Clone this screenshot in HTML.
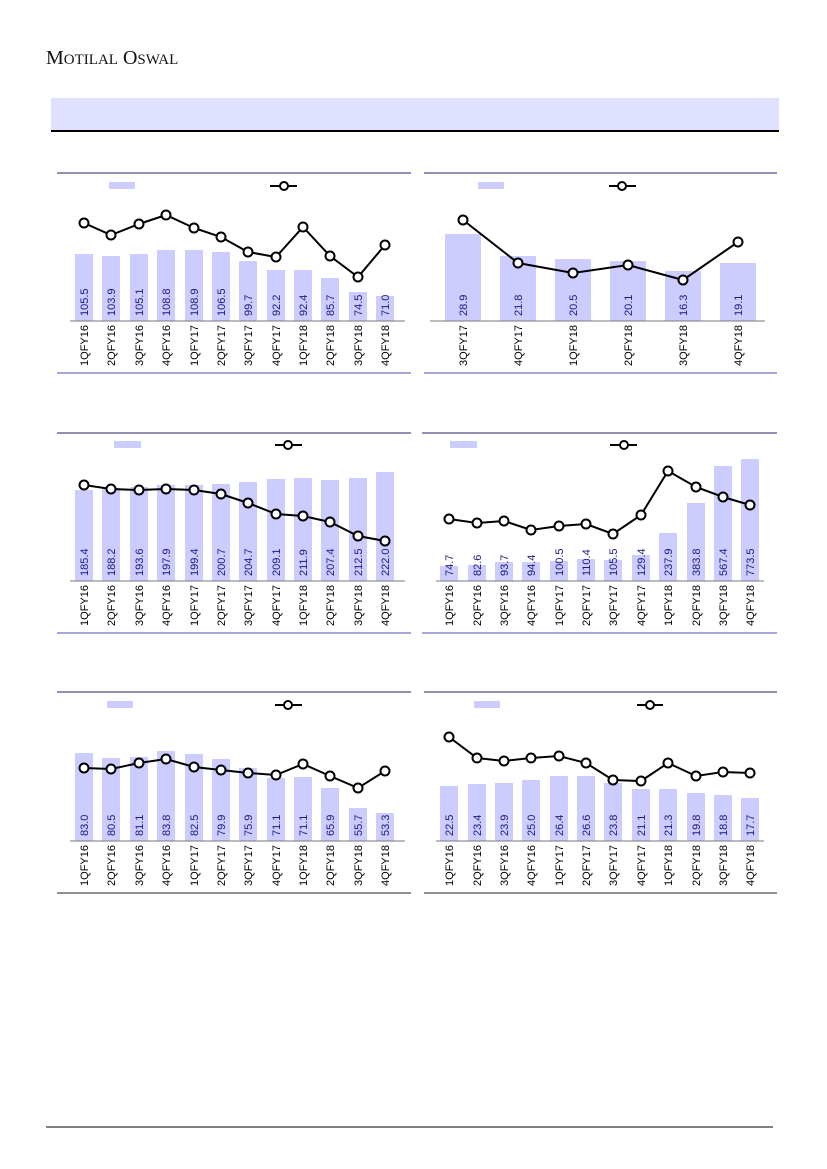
<!DOCTYPE html>
<html><head><meta charset="utf-8"><style>
body{margin:0;background:#fff;width:827px;height:1169px;overflow:hidden}
svg{position:absolute;left:0;top:0}
.b{fill:#ccccff}
.v{font:11px "Liberation Sans",sans-serif;fill:#1a1a80}
.x{font:11px "Liberation Sans",sans-serif;fill:#000}
.l{fill:none;stroke:#000;stroke-width:2}
.m{fill:#fff;stroke:#000;stroke-width:2}
</style></head><body>
<svg width="827" height="1169" xmlns="http://www.w3.org/2000/svg">
<text x="46" y="64" style="font:20px 'Liberation Serif',serif;fill:#111">M<tspan font-size="15">OTILAL</tspan> O<tspan font-size="15">SWAL</tspan></text>
<rect x="51" y="98" width="728" height="33" fill="#e0e0ff"/>
<line x1="51" y1="131" x2="779" y2="131" stroke="#000" stroke-width="2"/>
<line x1="46" y1="1127" x2="773" y2="1127" stroke="#000" stroke-width="1"/>

<!-- Chart 1 -->
<line x1="57" y1="173" x2="411" y2="173" stroke="#222266"/>
<line x1="57" y1="373" x2="411" y2="373" stroke="#8888cc" stroke-width="1.5"/>
<rect class="b" x="109" y="182" width="26" height="7"/>
<line x1="270" y1="186" x2="297" y2="186" stroke="#000" stroke-width="2"/><circle class="m" cx="284" cy="186" r="4"/>
<rect class="b" x="75" y="254" width="18" height="67"/>
<rect class="b" x="102" y="256" width="18" height="65"/>
<rect class="b" x="130" y="254" width="18" height="67"/>
<rect class="b" x="157" y="250" width="18" height="71"/>
<rect class="b" x="185" y="250" width="18" height="71"/>
<rect class="b" x="212" y="252" width="18" height="69"/>
<rect class="b" x="239" y="261" width="18" height="60"/>
<rect class="b" x="267" y="270" width="18" height="51"/>
<rect class="b" x="294" y="270" width="18" height="51"/>
<rect class="b" x="321" y="278" width="18" height="43"/>
<rect class="b" x="349" y="292" width="18" height="29"/>
<rect class="b" x="376" y="296" width="18" height="25"/>
<line x1="70" y1="321" x2="405" y2="321" stroke="#777"/>
<polyline class="l" points="84,223 111,235 139,224 166,215 194,228 221,237 248,252 276,257 303,227 330,256 358,277 385,245"/>
<g class="m"><circle cx="84" cy="223" r="4.5"/><circle cx="111" cy="235" r="4.5"/><circle cx="139" cy="224" r="4.5"/><circle cx="166" cy="215" r="4.5"/><circle cx="194" cy="228" r="4.5"/><circle cx="221" cy="237" r="4.5"/><circle cx="248" cy="252" r="4.5"/><circle cx="276" cy="257" r="4.5"/><circle cx="303" cy="227" r="4.5"/><circle cx="330" cy="256" r="4.5"/><circle cx="358" cy="277" r="4.5"/><circle cx="385" cy="245" r="4.5"/></g>
<g class="v">
<text transform="translate(88,316) rotate(-90)">105.5</text><text transform="translate(115,316) rotate(-90)">103.9</text><text transform="translate(143,316) rotate(-90)">105.1</text><text transform="translate(170,316) rotate(-90)">108.8</text><text transform="translate(198,316) rotate(-90)">108.9</text><text transform="translate(225,316) rotate(-90)">106.5</text><text transform="translate(252,316) rotate(-90)">99.7</text><text transform="translate(280,316) rotate(-90)">92.2</text><text transform="translate(307,316) rotate(-90)">92.4</text><text transform="translate(334,316) rotate(-90)">85.7</text><text transform="translate(362,316) rotate(-90)">74.5</text><text transform="translate(389,316) rotate(-90)">71.0</text></g>
<g class="x" text-anchor="end">
<text transform="translate(88,325) rotate(-90)">1QFY16</text><text transform="translate(115,325) rotate(-90)">2QFY16</text><text transform="translate(143,325) rotate(-90)">3QFY16</text><text transform="translate(170,325) rotate(-90)">4QFY16</text><text transform="translate(198,325) rotate(-90)">1QFY17</text><text transform="translate(225,325) rotate(-90)">2QFY17</text><text transform="translate(252,325) rotate(-90)">3QFY17</text><text transform="translate(280,325) rotate(-90)">4QFY17</text><text transform="translate(307,325) rotate(-90)">1QFY18</text><text transform="translate(334,325) rotate(-90)">2QFY18</text><text transform="translate(362,325) rotate(-90)">3QFY18</text><text transform="translate(389,325) rotate(-90)">4QFY18</text></g>

<!-- Chart 2 -->
<line x1="424" y1="173" x2="777" y2="173" stroke="#222266"/>
<line x1="424" y1="373" x2="777" y2="373" stroke="#8888cc" stroke-width="1.5"/>
<rect class="b" x="478" y="182" width="26" height="7"/>
<line x1="609" y1="186" x2="636" y2="186" stroke="#000" stroke-width="2"/><circle class="m" cx="622" cy="186" r="4"/>
<rect class="b" x="445" y="234" width="36" height="87"/>
<rect class="b" x="500" y="256" width="36" height="65"/>
<rect class="b" x="555" y="259" width="36" height="62"/>
<rect class="b" x="610" y="261" width="36" height="60"/>
<rect class="b" x="665" y="271" width="36" height="50"/>
<rect class="b" x="720" y="263" width="36" height="58"/>
<line x1="430" y1="321" x2="765" y2="321" stroke="#777"/>
<polyline class="l" points="463,220 518,263 573,273 628,265 683,280 738,242"/>
<g class="m"><circle cx="463" cy="220" r="4.5"/><circle cx="518" cy="263" r="4.5"/><circle cx="573" cy="273" r="4.5"/><circle cx="628" cy="265" r="4.5"/><circle cx="683" cy="280" r="4.5"/><circle cx="738" cy="242" r="4.5"/></g>
<g class="v">
<text transform="translate(467,316) rotate(-90)">28.9</text><text transform="translate(522,316) rotate(-90)">21.8</text><text transform="translate(577,316) rotate(-90)">20.5</text><text transform="translate(632,316) rotate(-90)">20.1</text><text transform="translate(687,316) rotate(-90)">16.3</text><text transform="translate(742,316) rotate(-90)">19.1</text></g>
<g class="x" text-anchor="end">
<text transform="translate(467,325) rotate(-90)">3QFY17</text><text transform="translate(522,325) rotate(-90)">4QFY17</text><text transform="translate(577,325) rotate(-90)">1QFY18</text><text transform="translate(632,325) rotate(-90)">2QFY18</text><text transform="translate(687,325) rotate(-90)">3QFY18</text><text transform="translate(742,325) rotate(-90)">4QFY18</text></g>

<!-- Chart 3 -->
<line x1="57" y1="433" x2="411" y2="433" stroke="#222266"/>
<line x1="57" y1="633" x2="411" y2="633" stroke="#8888cc" stroke-width="1.5"/>
<rect class="b" x="114" y="441" width="27" height="7"/>
<line x1="275" y1="445" x2="302" y2="445" stroke="#000" stroke-width="2"/><circle class="m" cx="288" cy="445" r="4"/>
<rect class="b" x="75" y="490" width="18" height="91"/>
<rect class="b" x="102" y="488" width="18" height="93"/>
<rect class="b" x="130" y="487" width="18" height="94"/>
<rect class="b" x="157" y="485" width="18" height="96"/>
<rect class="b" x="185" y="485" width="18" height="96"/>
<rect class="b" x="212" y="484" width="18" height="97"/>
<rect class="b" x="239" y="482" width="18" height="99"/>
<rect class="b" x="267" y="479" width="18" height="102"/>
<rect class="b" x="294" y="478" width="18" height="103"/>
<rect class="b" x="321" y="480" width="18" height="101"/>
<rect class="b" x="349" y="478" width="18" height="103"/>
<rect class="b" x="376" y="472" width="18" height="109"/>
<line x1="70" y1="581" x2="405" y2="581" stroke="#777"/>
<polyline class="l" points="84,485 111,489 139,490 166,489 194,490 221,494 248,503 276,514 303,516 330,522 358,536 385,541"/>
<g class="m"><circle cx="84" cy="485" r="4.5"/><circle cx="111" cy="489" r="4.5"/><circle cx="139" cy="490" r="4.5"/><circle cx="166" cy="489" r="4.5"/><circle cx="194" cy="490" r="4.5"/><circle cx="221" cy="494" r="4.5"/><circle cx="248" cy="503" r="4.5"/><circle cx="276" cy="514" r="4.5"/><circle cx="303" cy="516" r="4.5"/><circle cx="330" cy="522" r="4.5"/><circle cx="358" cy="536" r="4.5"/><circle cx="385" cy="541" r="4.5"/></g>
<g class="v">
<text transform="translate(88,576) rotate(-90)">185.4</text><text transform="translate(115,576) rotate(-90)">188.2</text><text transform="translate(143,576) rotate(-90)">193.6</text><text transform="translate(170,576) rotate(-90)">197.9</text><text transform="translate(198,576) rotate(-90)">199.4</text><text transform="translate(225,576) rotate(-90)">200.7</text><text transform="translate(252,576) rotate(-90)">204.7</text><text transform="translate(280,576) rotate(-90)">209.1</text><text transform="translate(307,576) rotate(-90)">211.9</text><text transform="translate(334,576) rotate(-90)">207.4</text><text transform="translate(362,576) rotate(-90)">212.5</text><text transform="translate(389,576) rotate(-90)">222.0</text></g>
<g class="x" text-anchor="end">
<text transform="translate(88,585) rotate(-90)">1QFY16</text><text transform="translate(115,585) rotate(-90)">2QFY16</text><text transform="translate(143,585) rotate(-90)">3QFY16</text><text transform="translate(170,585) rotate(-90)">4QFY16</text><text transform="translate(198,585) rotate(-90)">1QFY17</text><text transform="translate(225,585) rotate(-90)">2QFY17</text><text transform="translate(252,585) rotate(-90)">3QFY17</text><text transform="translate(280,585) rotate(-90)">4QFY17</text><text transform="translate(307,585) rotate(-90)">1QFY18</text><text transform="translate(334,585) rotate(-90)">2QFY18</text><text transform="translate(362,585) rotate(-90)">3QFY18</text><text transform="translate(389,585) rotate(-90)">4QFY18</text></g>

<!-- Chart 4 -->
<line x1="422" y1="433" x2="777" y2="433" stroke="#222266"/>
<line x1="422" y1="633" x2="777" y2="633" stroke="#8888cc" stroke-width="1.5"/>
<rect class="b" x="450" y="441" width="27" height="7"/>
<line x1="610" y1="445" x2="637" y2="445" stroke="#000" stroke-width="2"/><circle class="m" cx="624" cy="445" r="4"/>
<rect class="b" x="440" y="566" width="18" height="15"/>
<rect class="b" x="468" y="565" width="18" height="16"/>
<rect class="b" x="495" y="562" width="18" height="19"/>
<rect class="b" x="522" y="562" width="18" height="19"/>
<rect class="b" x="550" y="561" width="18" height="20"/>
<rect class="b" x="577" y="559" width="18" height="22"/>
<rect class="b" x="604" y="560" width="18" height="21"/>
<rect class="b" x="632" y="555" width="18" height="26"/>
<rect class="b" x="659" y="533" width="18" height="48"/>
<rect class="b" x="687" y="503" width="18" height="78"/>
<rect class="b" x="714" y="466" width="18" height="115"/>
<rect class="b" x="741" y="459" width="18" height="122"/>
<line x1="436" y1="581" x2="764" y2="581" stroke="#777"/>
<polyline class="l" points="449,519 477,523 504,521 531,530 559,526 586,524 613,534 641,515 668,471 696,487 723,497 750,505"/>
<g class="m"><circle cx="449" cy="519" r="4.5"/><circle cx="477" cy="523" r="4.5"/><circle cx="504" cy="521" r="4.5"/><circle cx="531" cy="530" r="4.5"/><circle cx="559" cy="526" r="4.5"/><circle cx="586" cy="524" r="4.5"/><circle cx="613" cy="534" r="4.5"/><circle cx="641" cy="515" r="4.5"/><circle cx="668" cy="471" r="4.5"/><circle cx="696" cy="487" r="4.5"/><circle cx="723" cy="497" r="4.5"/><circle cx="750" cy="505" r="4.5"/></g>
<g class="v">
<text transform="translate(453,576) rotate(-90)">74.7</text><text transform="translate(481,576) rotate(-90)">82.6</text><text transform="translate(508,576) rotate(-90)">93.7</text><text transform="translate(535,576) rotate(-90)">94.4</text><text transform="translate(563,576) rotate(-90)">100.5</text><text transform="translate(590,576) rotate(-90)">110.4</text><text transform="translate(617,576) rotate(-90)">105.5</text><text transform="translate(645,576) rotate(-90)">129.4</text><text transform="translate(672,576) rotate(-90)">237.9</text><text transform="translate(700,576) rotate(-90)">383.8</text><text transform="translate(727,576) rotate(-90)">567.4</text><text transform="translate(754,576) rotate(-90)">773.5</text></g>
<g class="x" text-anchor="end">
<text transform="translate(453,585) rotate(-90)">1QFY16</text><text transform="translate(481,585) rotate(-90)">2QFY16</text><text transform="translate(508,585) rotate(-90)">3QFY16</text><text transform="translate(535,585) rotate(-90)">4QFY16</text><text transform="translate(563,585) rotate(-90)">1QFY17</text><text transform="translate(590,585) rotate(-90)">2QFY17</text><text transform="translate(617,585) rotate(-90)">3QFY17</text><text transform="translate(645,585) rotate(-90)">4QFY17</text><text transform="translate(672,585) rotate(-90)">1QFY18</text><text transform="translate(700,585) rotate(-90)">2QFY18</text><text transform="translate(727,585) rotate(-90)">3QFY18</text><text transform="translate(754,585) rotate(-90)">4QFY18</text></g>

<!-- Chart 5 -->
<line x1="57" y1="692" x2="411" y2="692" stroke="#222266"/>
<line x1="57" y1="893" x2="411" y2="893" stroke="#222" stroke-width="1"/>
<rect class="b" x="107" y="701" width="26" height="7"/>
<line x1="275" y1="705" x2="302" y2="705" stroke="#000" stroke-width="2"/><circle class="m" cx="288" cy="705" r="4"/>
<rect class="b" x="75" y="753" width="18" height="88"/>
<rect class="b" x="102" y="758" width="18" height="83"/>
<rect class="b" x="130" y="757" width="18" height="84"/>
<rect class="b" x="157" y="751" width="18" height="90"/>
<rect class="b" x="185" y="754" width="18" height="87"/>
<rect class="b" x="212" y="759" width="18" height="82"/>
<rect class="b" x="239" y="768" width="18" height="73"/>
<rect class="b" x="267" y="778" width="18" height="63"/>
<rect class="b" x="294" y="777" width="18" height="64"/>
<rect class="b" x="321" y="788" width="18" height="53"/>
<rect class="b" x="349" y="808" width="18" height="33"/>
<rect class="b" x="376" y="813" width="18" height="28"/>
<line x1="70" y1="841" x2="405" y2="841" stroke="#777"/>
<polyline class="l" points="84,768 111,769 139,763 166,759 194,767 221,770 248,773 276,775 303,764 330,776 358,788 385,771"/>
<g class="m"><circle cx="84" cy="768" r="4.5"/><circle cx="111" cy="769" r="4.5"/><circle cx="139" cy="763" r="4.5"/><circle cx="166" cy="759" r="4.5"/><circle cx="194" cy="767" r="4.5"/><circle cx="221" cy="770" r="4.5"/><circle cx="248" cy="773" r="4.5"/><circle cx="276" cy="775" r="4.5"/><circle cx="303" cy="764" r="4.5"/><circle cx="330" cy="776" r="4.5"/><circle cx="358" cy="788" r="4.5"/><circle cx="385" cy="771" r="4.5"/></g>
<g class="v">
<text transform="translate(88,836) rotate(-90)">83.0</text><text transform="translate(115,836) rotate(-90)">80.5</text><text transform="translate(143,836) rotate(-90)">81.1</text><text transform="translate(170,836) rotate(-90)">83.8</text><text transform="translate(198,836) rotate(-90)">82.5</text><text transform="translate(225,836) rotate(-90)">79.9</text><text transform="translate(252,836) rotate(-90)">75.9</text><text transform="translate(280,836) rotate(-90)">71.1</text><text transform="translate(307,836) rotate(-90)">71.1</text><text transform="translate(334,836) rotate(-90)">65.9</text><text transform="translate(362,836) rotate(-90)">55.7</text><text transform="translate(389,836) rotate(-90)">53.3</text></g>
<g class="x" text-anchor="end">
<text transform="translate(88,845) rotate(-90)">1QFY16</text><text transform="translate(115,845) rotate(-90)">2QFY16</text><text transform="translate(143,845) rotate(-90)">3QFY16</text><text transform="translate(170,845) rotate(-90)">4QFY16</text><text transform="translate(198,845) rotate(-90)">1QFY17</text><text transform="translate(225,845) rotate(-90)">2QFY17</text><text transform="translate(252,845) rotate(-90)">3QFY17</text><text transform="translate(280,845) rotate(-90)">4QFY17</text><text transform="translate(307,845) rotate(-90)">1QFY18</text><text transform="translate(334,845) rotate(-90)">2QFY18</text><text transform="translate(362,845) rotate(-90)">3QFY18</text><text transform="translate(389,845) rotate(-90)">4QFY18</text></g>

<!-- Chart 6 -->
<line x1="424" y1="692" x2="777" y2="692" stroke="#222266"/>
<line x1="424" y1="893" x2="777" y2="893" stroke="#222" stroke-width="1"/>
<rect class="b" x="474" y="701" width="26" height="7"/>
<line x1="637" y1="705" x2="663" y2="705" stroke="#000" stroke-width="2"/><circle class="m" cx="650" cy="705" r="4"/>
<rect class="b" x="440" y="786" width="18" height="55"/>
<rect class="b" x="468" y="784" width="18" height="57"/>
<rect class="b" x="495" y="783" width="18" height="58"/>
<rect class="b" x="522" y="780" width="18" height="61"/>
<rect class="b" x="550" y="776" width="18" height="65"/>
<rect class="b" x="577" y="776" width="18" height="65"/>
<rect class="b" x="604" y="783" width="18" height="58"/>
<rect class="b" x="632" y="789" width="18" height="52"/>
<rect class="b" x="659" y="789" width="18" height="52"/>
<rect class="b" x="687" y="793" width="18" height="48"/>
<rect class="b" x="714" y="795" width="18" height="46"/>
<rect class="b" x="741" y="798" width="18" height="43"/>
<line x1="436" y1="841" x2="764" y2="841" stroke="#777"/>
<polyline class="l" points="449,737 477,758 504,761 531,758 559,756 586,763 613,780 641,781 668,763 696,776 723,772 750,773"/>
<g class="m"><circle cx="449" cy="737" r="4.5"/><circle cx="477" cy="758" r="4.5"/><circle cx="504" cy="761" r="4.5"/><circle cx="531" cy="758" r="4.5"/><circle cx="559" cy="756" r="4.5"/><circle cx="586" cy="763" r="4.5"/><circle cx="613" cy="780" r="4.5"/><circle cx="641" cy="781" r="4.5"/><circle cx="668" cy="763" r="4.5"/><circle cx="696" cy="776" r="4.5"/><circle cx="723" cy="772" r="4.5"/><circle cx="750" cy="773" r="4.5"/></g>
<g class="v">
<text transform="translate(453,836) rotate(-90)">22.5</text><text transform="translate(481,836) rotate(-90)">23.4</text><text transform="translate(508,836) rotate(-90)">23.9</text><text transform="translate(535,836) rotate(-90)">25.0</text><text transform="translate(563,836) rotate(-90)">26.4</text><text transform="translate(590,836) rotate(-90)">26.6</text><text transform="translate(617,836) rotate(-90)">23.8</text><text transform="translate(645,836) rotate(-90)">21.1</text><text transform="translate(672,836) rotate(-90)">21.3</text><text transform="translate(700,836) rotate(-90)">19.8</text><text transform="translate(727,836) rotate(-90)">18.8</text><text transform="translate(754,836) rotate(-90)">17.7</text></g>
<g class="x" text-anchor="end">
<text transform="translate(453,845) rotate(-90)">1QFY16</text><text transform="translate(481,845) rotate(-90)">2QFY16</text><text transform="translate(508,845) rotate(-90)">3QFY16</text><text transform="translate(535,845) rotate(-90)">4QFY16</text><text transform="translate(563,845) rotate(-90)">1QFY17</text><text transform="translate(590,845) rotate(-90)">2QFY17</text><text transform="translate(617,845) rotate(-90)">3QFY17</text><text transform="translate(645,845) rotate(-90)">4QFY17</text><text transform="translate(672,845) rotate(-90)">1QFY18</text><text transform="translate(700,845) rotate(-90)">2QFY18</text><text transform="translate(727,845) rotate(-90)">3QFY18</text><text transform="translate(754,845) rotate(-90)">4QFY18</text></g>
</svg>
</body></html>
